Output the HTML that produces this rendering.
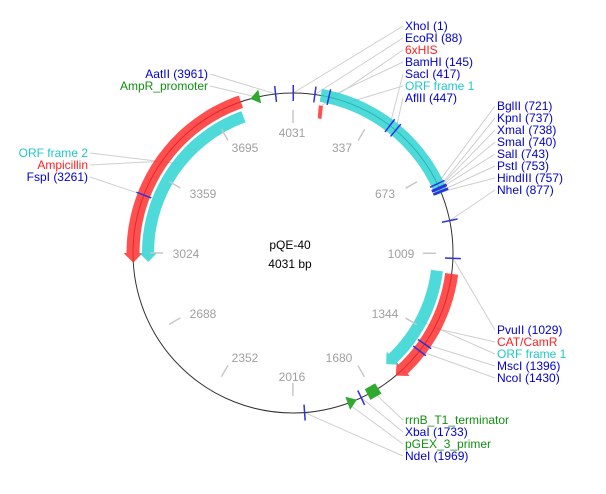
<!DOCTYPE html>
<html><head><meta charset="utf-8"><style>
html,body{margin:0;padding:0;background:#fff}
svg{display:block}
text{font-family:"Liberation Sans",Arial,sans-serif;font-size:12px}
</style></head><body>
<svg id="s" width="606" height="494" xmlns="http://www.w3.org/2000/svg">
<g id="lead" stroke="#cfcfcf" stroke-width="1" fill="none"></g>
<circle cx="293" cy="253" r="160" fill="none" stroke="#333" stroke-width="1"/>
<g id="feat"></g>
<g id="ticks"></g>
<g id="scale" stroke="#c8c8c8" stroke-width="1.5"></g>
<g fill="#a0a0a0" text-anchor="middle" style="font-size:12px">
<text x="292" y="137">4031</text>
<text x="342" y="152">337</text>
<text x="385" y="198">673</text>
<text x="401" y="258">1009</text>
<text x="385" y="318">1344</text>
<text x="339" y="362">1680</text>
<text x="292" y="381">2016</text>
<text x="245" y="362">2352</text>
<text x="203" y="318">2688</text>
<text x="186" y="258">3024</text>
<text x="203" y="198">3359</text>
<text x="245" y="152">3695</text>
</g>
<text x="290" y="249" text-anchor="middle" fill="#000">pQE-40</text>
<text x="290" y="268" text-anchor="middle" fill="#000">4031 bp</text>
<g>
<text x="405" y="30" fill="#0000cc">XhoI (1)</text>
<text x="405" y="42" fill="#0000cc">EcoRI (88)</text>
<text x="405" y="54" fill="#ff2020">6xHIS</text>
<text x="405" y="66" fill="#0000cc">BamHI (145)</text>
<text x="405" y="78" fill="#0000cc">SacI (417)</text>
<text x="405" y="90" fill="#20c8c8">ORF frame 1</text>
<text x="405" y="102" fill="#0000cc">AflII (447)</text>

<text x="497" y="110" fill="#0000cc">BglII (721)</text>
<text x="497" y="122" fill="#0000cc">KpnI (737)</text>
<text x="497" y="134" fill="#0000cc">XmaI (738)</text>
<text x="497" y="146" fill="#0000cc">SmaI (740)</text>
<text x="497" y="158" fill="#0000cc">SalI (743)</text>
<text x="497" y="170" fill="#0000cc">PstI (753)</text>
<text x="497" y="182" fill="#0000cc">HindIII (757)</text>
<text x="497" y="194" fill="#0000cc">NheI (877)</text>

<text x="497" y="334" fill="#0000cc">PvuII (1029)</text>
<text x="497" y="346" fill="#ff2020">CAT/CamR</text>
<text x="497" y="358" fill="#20c8c8">ORF frame 1</text>
<text x="497" y="370" fill="#0000cc">MscI (1396)</text>
<text x="497" y="382" fill="#0000cc">NcoI (1430)</text>

<text x="405" y="424" fill="#109010">rrnB_T1_terminator</text>
<text x="405" y="436" fill="#0000cc">XbaI (1733)</text>
<text x="405" y="448" fill="#109010">pGEX_3_primer</text>
<text x="405" y="460" fill="#0000cc">NdeI (1969)</text>

<text x="208" y="78" text-anchor="end" fill="#0000cc">AatII (3961)</text>
<text x="208" y="90" text-anchor="end" fill="#109010">AmpR_promoter</text>

<text x="88" y="157" text-anchor="end" fill="#20c8c8">ORF frame 2</text>
<text x="88" y="169" text-anchor="end" fill="#ff2020">Ampicillin</text>
<text x="88" y="181" text-anchor="end" fill="#0000cc">FspI (3261)</text>
</g>
</svg>
<script>
var cx=293,cy=253,N=4031,NS="http://www.w3.org/2000/svg";
function P(a,r){var t=a*Math.PI/180;return [cx+r*Math.sin(t),cy-r*Math.cos(t)];}
function A(p){return p/N*360;}
function el(g,tag,at){var e=document.createElementNS(NS,tag);for(var k in at)e.setAttribute(k,at[k]);document.getElementById(g).appendChild(e);return e;}
function arcPts(a1,a2,r,n){var pts=[];for(var i=0;i<=n;i++){pts.push(P(a1+(a2-a1)*i/n,r));}return pts;}
function band(a1,a2,r,w,head,color){
 var dir=a2>a1?1:-1,ah=a2-dir*head;
 var o=arcPts(a1,ah,r+w/2,40),i=arcPts(ah,a1,r-w/2,40);
 var pts=o.slice();
 if(head>0){pts.push(P(ah,r+w/2+3));pts.push(P(a2,r));pts.push(P(ah,r-w/2-3));}
 pts=pts.concat(i);
 el("feat","polygon",{points:pts.map(function(p){return p[0].toFixed(1)+","+p[1].toFixed(1)}).join(" "),fill:color});
}
var RED="rgba(255,40,40,0.82)",CY="rgba(40,210,210,0.82)";
band(10,68,160,13,0,CY);
band(-19,-93.5,160,13,3.5,RED);
band(-20,-93.5,145,12,3.5,CY);
band(97.5,140,160,13,3.5,RED);
band(97,140,145,12,3.5,CY);
// 6xHIS: thin tilted bar
(function(){var a=11.2,pts=[P(a-0.8,137),P(a+0.8,137),P(a+0.3,150),P(a-1.3,150)];el("feat","polygon",{points:pts.map(function(p){return p.join(",")}).join(" "),fill:RED});})();
function tri(a,dir){var p1=P(a,153),p2=P(a,167),p3=P(a+dir*3.5,160);el("feat","polygon",{points:[p1,p2,p3].map(function(p){return p.join(",")}).join(" "),fill:"#2faa2f"});}
tri(-12,-1);tri(160,-1);
(function(){var a=150,pts=[P(a-2.2,154),P(a+2.2,154),P(a+2.2,166),P(a-2.2,166)];el("feat","polygon",{points:pts.map(function(p){return p.join(",")}).join(" "),fill:"#2faa2f"});})();
var sites=[1,88,145,417,447,721,737,738,740,743,753,757,877,1029,1396,1430,1733,1969,3261,3961];
sites.forEach(function(s){var a=A(s),p1=P(a,152),p2=P(a,168);el("ticks","line",{x1:p1[0],y1:p1[1],x2:p2[0],y2:p2[1],stroke:"#3030dd","stroke-width":1.5});});
[0,337,673,1009,1344,1680,2016,2352,2688,3024,3359,3695].forEach(function(s){var a=A(s),p1=P(a,130),p2=P(a,143);el("scale","line",{x1:p1[0],y1:p1[1],x2:p2[0],y2:p2[1]});});
function L(a,r,x,y){var p=P(a,r);el("lead","line",{x1:p[0],y1:p[1],x2:x,y2:y});}
L(A(1),160,403,26);L(A(88),160,403,38);L(11,150,403,50);L(A(145),160,403,62);L(A(417),160,403,74);L(20,160,403,86);L(A(447),160,403,98);
var ys=[106,118,130,142,154,166,178,190],ss=[721,737,738,740,743,753,757,877];
ss.forEach(function(s,i){L(A(s),160,495,ys[i]);});
L(A(1029),160,495,330);L(118,160,495,342);L(118,145,495,354);L(A(1396),160,495,366);L(A(1430),160,495,378);
L(150,160,403,420);L(A(1733),160,403,432);L(160,160,403,444);L(A(1969),160,403,456);
L(A(3961),160,210,74);L(-13,160,210,86);
L(-52,145,90,153);L(-55,160,90,165);L(A(3261),160,90,177);
</script>
</body></html>
